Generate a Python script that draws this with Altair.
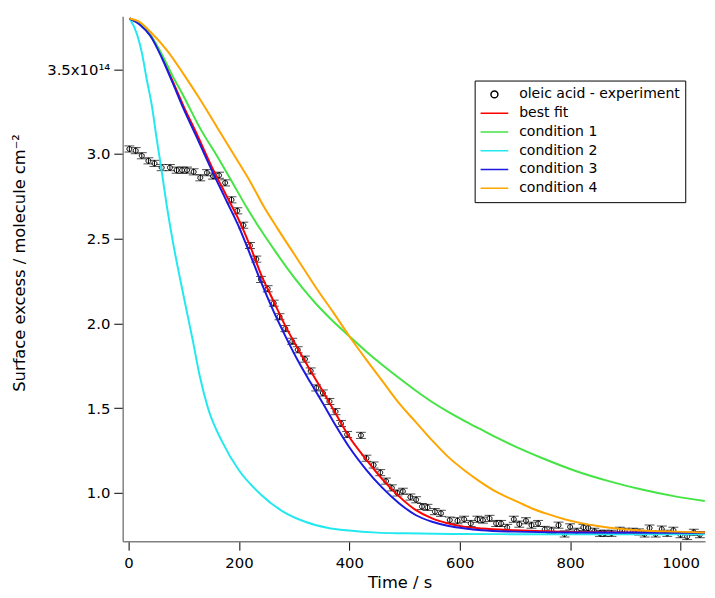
import altair as alt
import pandas as pd

# ---------------- data ----------------
NAMES = ["oleic acid - experiment", "best fit", "condition 1",
         "condition 2", "condition 3", "condition 4"]
COLORS = ["#000000", "#ff0000", "#44e444", "#22e8f0", "#1a1ae0", "#ffa500"]

# experimental surface excess (x10^14 molecule cm^-2) vs time (s)
exp_t = [1.5, 13, 24, 36, 47, 60, 75, 87, 97, 106, 118, 130, 142, 153, 164, 175,
         186.5, 197, 208, 220, 231.5, 240, 252, 263, 273.5, 284, 296.5, 306.5,
         319.5, 330, 340, 352, 364, 375, 385, 396, 421, 431, 444, 456, 466.5,
         477, 487, 497, 510.6, 521, 531.5, 541.6, 555, 566, 582, 596, 608, 620,
         632, 642, 654, 666, 675, 686, 698, 708, 720, 730, 742, 754, 766, 779,
         790, 800, 812, 824, 833, 844, 854, 863, 875, 890, 899, 914, 925, 935,
         944, 955, 966, 976, 987, 1000, 1012, 1024, 1035]
exp_v = [3.03, 3.02, 2.99, 2.96, 2.945, 2.92, 2.92, 2.905, 2.905, 2.905, 2.895,
         2.86, 2.89, 2.87, 2.875, 2.83, 2.73, 2.665, 2.58, 2.46, 2.38, 2.26,
         2.205, 2.12, 2.04, 1.97, 1.895, 1.845, 1.79, 1.72, 1.62, 1.59, 1.54,
         1.48, 1.41, 1.345, 1.34, 1.205, 1.165, 1.12, 1.07, 1.03, 1.00, 1.01,
         0.976, 0.96, 0.92, 0.915, 0.89, 0.88, 0.84, 0.836, 0.845, 0.82, 0.845,
         0.84, 0.85, 0.82, 0.82, 0.797, 0.845, 0.816, 0.836, 0.81, 0.82, 0.785,
         0.78, 0.81, 0.758, 0.80, 0.774, 0.797, 0.793, 0.774, 0.762, 0.762,
         0.762, 0.78, 0.774, 0.774, 0.77, 0.758, 0.793, 0.758, 0.787, 0.762,
         0.78, 0.754, 0.743, 0.768, 0.754]
exp_err = 0.018

# best fit (red)
fit_t = [2, 20, 40, 60, 80, 100, 122, 150, 178, 200, 220, 240, 263, 285, 307,
         330, 352, 375, 400, 430, 460, 490, 520, 550, 580, 610, 640, 700, 800,
         900, 1044]
fit_v = [3.80, 3.77, 3.70, 3.58, 3.43, 3.28, 3.13, 2.93, 2.75, 2.61, 2.46, 2.29,
         2.13, 1.98, 1.85, 1.72, 1.60, 1.47, 1.33, 1.20, 1.08, 0.98, 0.90, 0.85,
         0.82, 0.80, 0.79, 0.78, 0.77, 0.767, 0.765]

# condition 1 (green)
c1_t = [2, 20, 40, 60, 80, 100, 130, 160, 185, 215, 240, 265, 290, 315, 340,
        370, 400, 430, 460, 490, 520, 550, 580, 610, 640, 670, 700, 750, 810,
        870, 930, 990, 1044]
c1_v = [3.80, 3.77, 3.70, 3.59, 3.46, 3.34, 3.15, 2.99, 2.85, 2.68, 2.55, 2.43,
        2.315, 2.21, 2.115, 2.015, 1.925, 1.837, 1.755, 1.678, 1.605, 1.537,
        1.477, 1.423, 1.372, 1.322, 1.275, 1.205, 1.13, 1.07, 1.02, 0.98, 0.953]

# condition 2 (cyan)
c2_t = [2, 15, 24, 33, 42, 51, 60, 71, 81, 93, 105, 117, 129, 144, 170, 200,
        240, 280, 320, 360, 400, 450, 500, 600, 700, 850, 1044]
c2_v = [3.80, 3.71, 3.60, 3.44, 3.29, 3.09, 2.90, 2.66, 2.47, 2.27, 2.08, 1.89,
        1.69, 1.50, 1.30, 1.134, 0.99, 0.89, 0.83, 0.795, 0.778, 0.766, 0.762,
        0.758, 0.757, 0.756, 0.756]

# condition 3 (blue)
c3_t = [2, 20, 40, 60, 80, 100, 122, 150, 178, 200, 220, 240, 263, 285, 307,
        330, 352, 375, 400, 430, 460, 490, 520, 550, 580, 610, 640, 700, 800,
        1044]
c3_v = [3.80, 3.765, 3.695, 3.57, 3.42, 3.265, 3.11, 2.91, 2.72, 2.57, 2.41,
        2.245, 2.07, 1.92, 1.78, 1.65, 1.53, 1.40, 1.27, 1.14, 1.03, 0.94, 0.87,
        0.83, 0.805, 0.79, 0.78, 0.772, 0.767, 0.765]

# condition 4 (orange)
c4_t = [2, 20, 40, 70, 100, 130, 160, 190, 220, 245, 270, 300, 320, 340, 370,
        400, 430, 460, 490, 520, 550, 580, 610, 640, 670, 700, 730, 760, 790,
        820, 850, 880, 930, 990, 1044]
c4_v = [3.80, 3.78, 3.72, 3.61, 3.47, 3.32, 3.16, 3.00, 2.84, 2.69, 2.56, 2.41,
        2.31, 2.21, 2.07, 1.925, 1.79, 1.66, 1.53, 1.42, 1.31, 1.21, 1.13, 1.06,
        1.00, 0.955, 0.91, 0.875, 0.845, 0.822, 0.805, 0.792, 0.779, 0.772,
        0.767]

X_TICKS = [0, 200, 400, 600, 800, 1000]
Y_TICKS = [1.0, 1.5, 2.0, 2.5, 3.0, 3.5]
X_DOMAIN = [-10.6, 1044.4]
Y_DOMAIN = [0.715, 3.813]

# ---------------- build tables ----------------
exp_df = pd.DataFrame({"t": exp_t, "v": exp_v, "series": NAMES[0]})
exp_df["lo"] = exp_df["v"] - exp_err
exp_df["hi"] = exp_df["v"] + exp_err

curves = [(fit_t, fit_v, COLORS[1]), (c1_t, c1_v, COLORS[2]),
          (c2_t, c2_v, COLORS[3]), (c3_t, c3_v, COLORS[4]),
          (c4_t, c4_v, COLORS[5])]

FONT = "DejaVu Sans"
CIRCLE = "M-0.25,0A0.25,0.25 0 1,0 0.25,0A0.25,0.25 0 1,0 -0.25,0Z"
SHAPES = [CIRCLE, "stroke", "stroke", "stroke", "stroke", "stroke"]

xs = alt.Scale(domain=X_DOMAIN, nice=False, zero=False)
ys = alt.Scale(domain=Y_DOMAIN, nice=False, zero=False)

x_axis = alt.Axis(values=X_TICKS, format="d", title="Time / s", titleX=280,
                  titleY=42, titleAlign="center", titleBaseline="middle",
                  labelFlush=False, labelPadding=6)
y_axis = alt.Axis(values=Y_TICKS, title="Surface excess / molecule cm\u207b\u00b2",
                  labelExpr="datum.value == 3.5 ? '3.5x10\u00b9\u2074' : format(datum.value, '.1f')",
                  titleX=-104, titleY=249, titleAngle=270, titleAlign="center",
                  titleBaseline="middle", labelFlush=False, labelPadding=4)

X = alt.X("t:Q", scale=xs, axis=x_axis)
Y = alt.Y("v:Q", scale=ys, axis=y_axis)

legend = alt.Legend(title=None, orient="none", legendX=356, legendY=65,
                    padding=5, clipHeight=18, rowPadding=1,
                    labelFont=FONT, labelFontSize=14.2, labelColor="black",
                    labelOffset=10, labelLimit=400, symbolSize=784,
                    symbolStrokeWidth=1.5, strokeColor="black",
                    fillColor="white", cornerRadius=0)

err_rule = alt.Chart(exp_df).mark_rule(color="black", strokeWidth=1).encode(
    x=X, y=alt.Y("lo:Q", scale=ys, axis=y_axis), y2="hi:Q")
cap_lo = alt.Chart(exp_df).mark_tick(orient="horizontal", size=10, thickness=1,
                                     color="black").encode(
    x=X, y=alt.Y("lo:Q", scale=ys, axis=y_axis))
cap_hi = alt.Chart(exp_df).mark_tick(orient="horizontal", size=10, thickness=1,
                                     color="black").encode(
    x=X, y=alt.Y("hi:Q", scale=ys, axis=y_axis))

points = alt.Chart(exp_df).mark_point(filled=False, size=400, strokeWidth=1,
                                      opacity=1).encode(
    x=X, y=Y,
    color=alt.Color("series:N", scale=alt.Scale(domain=NAMES, range=COLORS),
                    legend=legend),
    shape=alt.Shape("series:N", scale=alt.Scale(domain=NAMES, range=SHAPES),
                    legend=legend),
)

layers = [err_rule, cap_lo, cap_hi, points]
for tt, vv, col in curves:
    df = pd.DataFrame({"t": tt, "v": vv})
    layers.append(
        alt.Chart(df).mark_line(color=col, strokeWidth=2,
                                interpolate="monotone").encode(x=X, y=Y))

chart = alt.layer(*layers).properties(
    width=589, height=531,
    autosize=alt.AutoSizeParams(type="none"),
    padding={"left": 116, "top": 5, "right": 2, "bottom": 54},
).configure_view(stroke=None).configure_axis(
    labelFont=FONT, labelFontSize=15, labelColor="black",
    titleFont=FONT, titleFontSize=16.5, titleFontWeight="normal", titleColor="black",
    grid=False, domainColor="#808080", domainWidth=1.5,
    tickColor="black", tickSize=9, tickWidth=1,
)

chart.save("out.html", embed_options={"renderer": "svg", "actions": False})
